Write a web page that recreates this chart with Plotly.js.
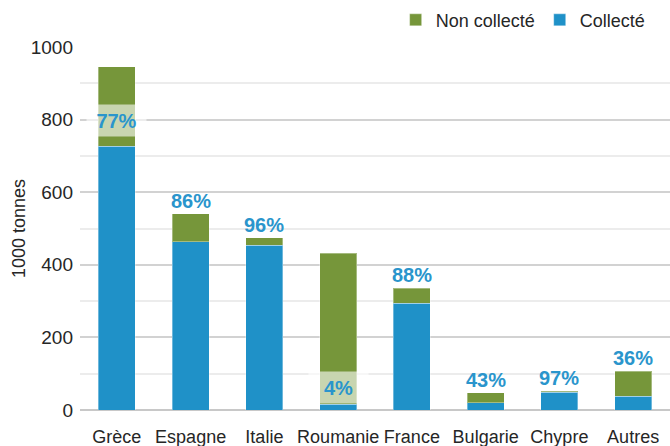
<!DOCTYPE html>
<html>
<head>
<meta charset="utf-8">
<script src="https://cdn.plot.ly/plotly-3.0.1.min.js"></script>
<style>html,body{margin:0;padding:0;background:#fff;}#chart{width:670px;height:446px;}</style>
</head>
<body>
<div id="chart"></div>
<script>
const categories = ['Grèce', 'Espagne', 'Italie', 'Roumanie', 'France', 'Bulgarie', 'Chypre', 'Autres'];
const collecte = [727, 463, 454, 16, 294, 20, 49, 38];
const nonCollecte = [218, 77, 20, 416, 41, 28, 2, 69];
const pctLabels = ['77%', '86%', '96%', '4%', '88%', '43%', '97%', '36%'];
// label y-positions for the two boxed labels (inside bars)
const boxedLabelY = {'Grèce': 797, 'Roumanie': 62};

const FONT = '"Liberation Sans", Arial, sans-serif';
const BLUE = '#1f91c8';
const GREEN = '#76963a';
const LABEL = '#2a95cc';
const TXT = '#262626';

const traces = [
  {type: 'bar', name: 'Collecté', x: categories, y: collecte,
   marker: {color: BLUE, line: {width: 1, color: 'rgba(255,255,255,0.35)'}}, hoverinfo: 'skip'},
  {type: 'bar', name: 'Non collecté', x: categories, y: nonCollecte,
   marker: {color: GREEN, line: {width: 1, color: 'rgba(255,255,255,0.35)'}}, hoverinfo: 'skip'}
];

const labelFont = {family: FONT, size: 20, color: LABEL, weight: 'bold'};
const annotations = categories.map((c, i) => {
  const total = collecte[i] + nonCollecte[i];
  if (boxedLabelY[c] !== undefined) {
    return {x: c, y: boxedLabelY[c], xref: 'x', yref: 'y', text: pctLabels[i], showarrow: false,
      xanchor: 'center', yanchor: 'middle', width: 57, height: 29,
      bgcolor: 'rgba(255,255,255,0.6)', font: labelFont};
  }
  return {x: c, y: total, xref: 'x', yref: 'y', text: pctLabels[i], showarrow: false,
    xanchor: 'center', yanchor: 'bottom', yshift: 0, font: labelFont};
});

const layout = {
  width: 670, height: 446,
  margin: {l: 80, r: 0, t: 47, b: 36},
  paper_bgcolor: '#fff', plot_bgcolor: '#fff',
  barmode: 'stack', bargap: 0.5,
  font: {family: FONT, size: 18, color: TXT},
  showlegend: true,
  legend: {orientation: 'h', x: 0.535, xanchor: 'left', y: 1.074, yanchor: 'middle',
    traceorder: 'reversed', font: {family: FONT, size: 18, color: TXT}, itemwidth: 30},
  xaxis: {type: 'category', showgrid: false, zeroline: false, showline: false, ticks: '',
    tickangle: 0, ticklabelstandoff: 14, automargin: false,
    tickfont: {family: FONT, size: 18, color: TXT}, fixedrange: true},
  yaxis: {range: [0, 1000], dtick: 200, showgrid: true, gridcolor: '#d2d2d2', gridwidth: 2,
    zeroline: true, zerolinecolor: '#c8c8c8', zerolinewidth: 2,
    ticks: '', ticklabelstandoff: 6, automargin: false,
    minor: {dtick: 100, showgrid: true, gridcolor: '#ececec', gridwidth: 2},
    tickfont: {family: FONT, size: 19, color: TXT},
    title: {text: '1000 tonnes', font: {family: FONT, size: 18, color: TXT}, standoff: 0}},
  annotations: annotations
};

Plotly.newPlot('chart', traces, layout, {displayModeBar: false, staticPlot: true});
</script>
</body>
</html>
